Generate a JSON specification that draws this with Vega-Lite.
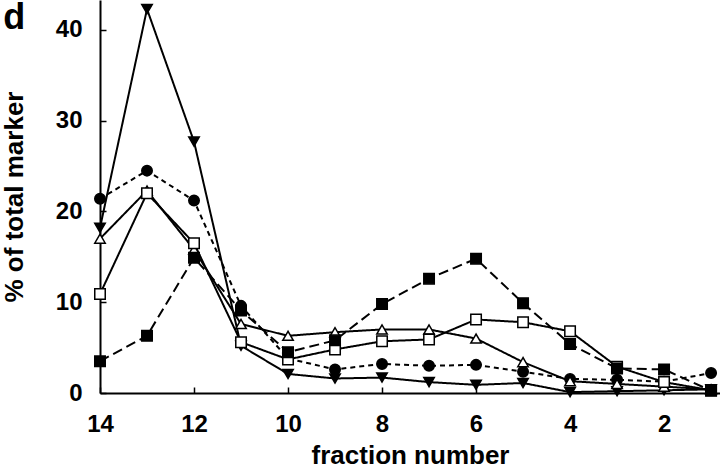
{
  "$schema": "https://vega.github.io/schema/vega-lite/v6.json",
  "width": 620,
  "height": 393,
  "autosize": {"type": "none"},
  "padding": {"left": 100, "top": 0, "right": 0, "bottom": 76},
  "background": "white",
  "title": {"text": "d", "anchor": "start", "frame": "bounds", "orient": "top", "offset": -37, "dx": 2, "fontSize": 36, "font": "Liberation Sans", "fontWeight": "bold", "color": "black"},
  "config": {
    "view": {"stroke": null},
    "axis": {
      "labelFont": "Liberation Sans", "labelFontSize": 24, "labelFontWeight": "bold", "labelColor": "black",
      "titleFont": "Liberation Sans", "titleFontSize": 26, "titleFontWeight": "bold", "titleColor": "black",
      "domainColor": "black", "domainWidth": 2, "tickColor": "black", "tickSize": -6, "tickWidth": 1.5,
      "grid": false, "labelFlush": false, "labelOverlap": false
    },
    "axisX": {"labelPadding": 25},
    "axisY": {"labelPadding": 24}
  },
  "data": {"values": [
    {"series": "filled down-triangle", "fraction": 14, "pct": 18.2},
    {"series": "filled down-triangle", "fraction": 13, "pct": 42.3},
    {"series": "filled down-triangle", "fraction": 12, "pct": 27.7},
    {"series": "filled down-triangle", "fraction": 11, "pct": 5.2},
    {"series": "filled down-triangle", "fraction": 10, "pct": 2.1},
    {"series": "filled down-triangle", "fraction": 9, "pct": 1.6},
    {"series": "filled down-triangle", "fraction": 8, "pct": 1.7},
    {"series": "filled down-triangle", "fraction": 7, "pct": 1.2},
    {"series": "filled down-triangle", "fraction": 6, "pct": 0.9},
    {"series": "filled down-triangle", "fraction": 5, "pct": 1.1},
    {"series": "filled down-triangle", "fraction": 4, "pct": 0.1},
    {"series": "filled down-triangle", "fraction": 3, "pct": 0.2},
    {"series": "filled down-triangle", "fraction": 2, "pct": 0.3},
    {"series": "filled down-triangle", "fraction": 1, "pct": 0.4},

    {"series": "filled circle", "fraction": 14, "pct": 21.4},
    {"series": "filled circle", "fraction": 13, "pct": 24.5},
    {"series": "filled circle", "fraction": 12, "pct": 21.2},
    {"series": "filled circle", "fraction": 11, "pct": 9.6},
    {"series": "filled circle", "fraction": 10, "pct": 3.8},
    {"series": "filled circle", "fraction": 9, "pct": 2.6},
    {"series": "filled circle", "fraction": 8, "pct": 3.2},
    {"series": "filled circle", "fraction": 7, "pct": 3.0},
    {"series": "filled circle", "fraction": 6, "pct": 3.1},
    {"series": "filled circle", "fraction": 5, "pct": 2.35},
    {"series": "filled circle", "fraction": 4, "pct": 1.55},
    {"series": "filled circle", "fraction": 3, "pct": 1.45},
    {"series": "filled circle", "fraction": 2, "pct": 1.25},
    {"series": "filled circle", "fraction": 1, "pct": 2.2},

    {"series": "open triangle", "fraction": 14, "pct": 17.0},
    {"series": "open triangle", "fraction": 13, "pct": 22.3},
    {"series": "open triangle", "fraction": 12, "pct": 15.8},
    {"series": "open triangle", "fraction": 11, "pct": 7.6},
    {"series": "open triangle", "fraction": 10, "pct": 6.3},
    {"series": "open triangle", "fraction": 9, "pct": 6.7},
    {"series": "open triangle", "fraction": 8, "pct": 7.0},
    {"series": "open triangle", "fraction": 7, "pct": 7.0},
    {"series": "open triangle", "fraction": 6, "pct": 6.0},
    {"series": "open triangle", "fraction": 5, "pct": 3.4},
    {"series": "open triangle", "fraction": 4, "pct": 1.3},
    {"series": "open triangle", "fraction": 3, "pct": 1.0},
    {"series": "open triangle", "fraction": 2, "pct": 0.7},
    {"series": "open triangle", "fraction": 1, "pct": 0.4},

    {"series": "open square", "fraction": 14, "pct": 10.9},
    {"series": "open square", "fraction": 13, "pct": 22.0},
    {"series": "open square", "fraction": 12, "pct": 16.5},
    {"series": "open square", "fraction": 11, "pct": 5.6},
    {"series": "open square", "fraction": 10, "pct": 3.7},
    {"series": "open square", "fraction": 9, "pct": 4.8},
    {"series": "open square", "fraction": 8, "pct": 5.7},
    {"series": "open square", "fraction": 7, "pct": 5.9},
    {"series": "open square", "fraction": 6, "pct": 8.1},
    {"series": "open square", "fraction": 5, "pct": 7.8},
    {"series": "open square", "fraction": 4, "pct": 6.8},
    {"series": "open square", "fraction": 3, "pct": 2.9},
    {"series": "open square", "fraction": 2, "pct": 1.2},
    {"series": "open square", "fraction": 1, "pct": 0.3},

    {"series": "filled square", "fraction": 14, "pct": 3.5},
    {"series": "filled square", "fraction": 13, "pct": 6.3},
    {"series": "filled square", "fraction": 12, "pct": 14.9},
    {"series": "filled square", "fraction": 11, "pct": 9.1},
    {"series": "filled square", "fraction": 10, "pct": 4.5},
    {"series": "filled square", "fraction": 9, "pct": 5.8},
    {"series": "filled square", "fraction": 8, "pct": 9.8},
    {"series": "filled square", "fraction": 7, "pct": 12.6},
    {"series": "filled square", "fraction": 6, "pct": 14.8},
    {"series": "filled square", "fraction": 5, "pct": 9.9},
    {"series": "filled square", "fraction": 4, "pct": 5.4},
    {"series": "filled square", "fraction": 3, "pct": 2.7},
    {"series": "filled square", "fraction": 2, "pct": 2.6},
    {"series": "filled square", "fraction": 1, "pct": 0.25}
  ]},
  "encoding": {
    "x": {"field": "fraction", "type": "quantitative",
          "scale": {"domain": [14, 0.81], "nice": false, "zero": false},
          "axis": {"values": [14, 12, 10, 8, 6, 4, 2], "title": "fraction number", "titlePadding": 6}},
    "y": {"field": "pct", "type": "quantitative",
          "scale": {"domain": [0, 43.3], "nice": false},
          "axis": {"values": [0, 10, 20, 30, 40], "title": "% of total marker", "titlePadding": 28}}
  },
  "layer": [
    {
      "mark": {"type": "line", "color": "black", "strokeWidth": 2},
      "encoding": {
        "detail": {"field": "series"},
        "strokeDash": {"field": "series", "type": "nominal", "legend": null,
          "scale": {"domain": ["filled down-triangle", "filled circle", "open triangle", "open square", "filled square"],
                    "range": [[1, 0], [5, 4], [1, 0], [1, 0], [10, 5]]}}
      }
    },
    {
      "mark": {"type": "point", "filled": true, "stroke": "black", "strokeWidth": 1.5, "size": 110, "opacity": 1},
      "encoding": {
        "shape": {"field": "series", "type": "nominal", "legend": null,
          "scale": {"domain": ["filled down-triangle", "filled circle", "open triangle", "open square", "filled square"],
                    "range": ["triangle-down", "circle", "triangle-up", "square", "square"]}},
        "fill": {"field": "series", "type": "nominal", "legend": null,
          "scale": {"domain": ["filled down-triangle", "filled circle", "open triangle", "open square", "filled square"],
                    "range": ["black", "black", "white", "white", "black"]}}
      }
    }
  ]
}
